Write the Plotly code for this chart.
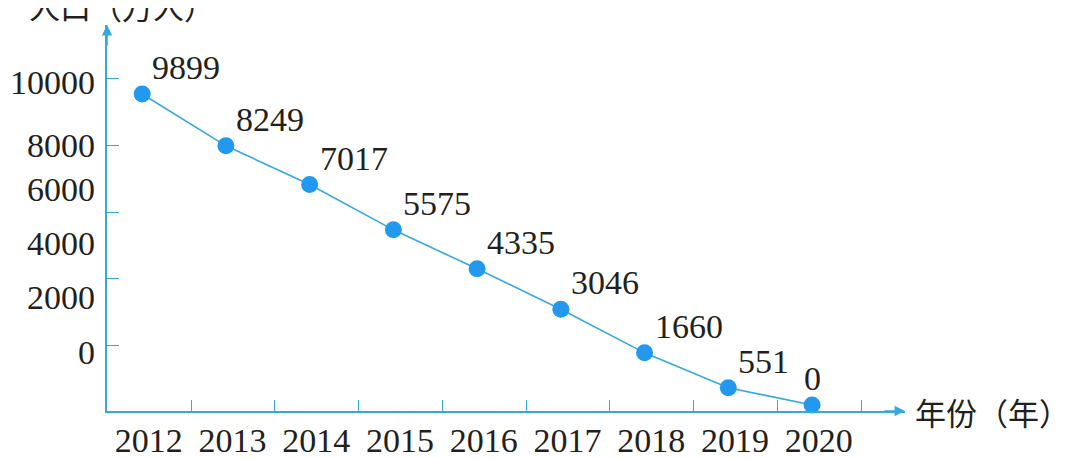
import plotly.graph_objects as go

# data
years = [2012, 2013, 2014, 2015, 2016, 2017, 2018, 2019, 2020]
population = [9899, 8249, 7017, 5575, 4335, 3046, 1660, 551, 0]
y_tick_text = ['10000', '8000', '6000', '4000', '2000', '0']

BLUE = '#35a8e0'
DOT = '#2299ef'
INK = '#231f20'
SERIF = 'Liberation Serif, Times New Roman, serif'
CJK = 'Noto Sans CJK SC'

# the page body adds an 8px margin, so the figure is drawn 8px smaller
OFF = 8
W, H = 1080 - OFF, 459 - OFF
# plot box: y axis line at page x=107, x axis line at page y=411
L, R, T, B = 107 - OFF, 175, 25 - OFF, 48
y_range = [-191, 12094]
x_range = [2011.58, 2021.11]


def px_to_y(p):
    # page pixel row -> data value on the main y axis
    top, bot = T, H - B
    p = p - OFF
    return y_range[1] - (p - top) / (bot - top) * (y_range[1] - y_range[0])


# the printed figure puts its y ticks and labels on their own spacing
y_tick_rows = [78, 145, 212, 278, 345]
y_label_rows = [82, 145, 189, 243, 297, 352]

fig = go.Figure()
fig.add_trace(go.Scatter(
    x=years, y=population,
    mode='lines+markers',
    line=dict(color=BLUE, width=1.6),
    marker=dict(color=DOT, size=17),
    cliponaxis=False,
    showlegend=False,
))
# invisible trace so the label axes get drawn
fig.add_trace(go.Scatter(x=[years[0]], y=[0], xaxis='x2', yaxis='y2',
                         mode='markers', marker=dict(opacity=0),
                         showlegend=False, hoverinfo='skip'))

# value labels up and to the right of each dot, the last one centred
value_labels = []
for i, (yr, v) in enumerate(zip(years, population)):
    last = i == len(years) - 1
    value_labels.append(dict(
        x=yr, y=v, text=str(v), showarrow=False,
        xanchor='center' if last else 'left', yanchor='bottom',
        xshift=0 if last else 8, yshift=6,
        font=dict(family=SERIF, size=34, color=INK)))

fig.update_layout(
    width=W, height=H,
    margin=dict(l=L, r=R, t=T, b=B, autoexpand=False),
    paper_bgcolor='white', plot_bgcolor='white',
    xaxis=dict(range=x_range, showgrid=False, zeroline=False,
               showline=True, linecolor=BLUE, linewidth=1.6,
               tickvals=[y + 0.585 for y in years], ticks='inside',
               ticklen=11, tickcolor=BLUE, tickwidth=1.4,
               showticklabels=False, automargin=False),
    xaxis2=dict(range=x_range, overlaying='x', side='bottom',
                showgrid=False, zeroline=False, showline=False,
                tickvals=[y + 0.08 for y in years],
                ticktext=[str(y) for y in years], ticks='',
                ticklabelstandoff=6, automargin=False,
                tickfont=dict(family=SERIF, size=34, color=INK)),
    yaxis=dict(range=y_range, showgrid=False, zeroline=False,
               showline=True, linecolor=BLUE, linewidth=1.6,
               tickvals=[px_to_y(p) for p in y_tick_rows], ticks='inside',
               ticklen=12, tickcolor=BLUE, tickwidth=1.4,
               showticklabels=False, automargin=False),
    yaxis2=dict(range=y_range, overlaying='y', side='left',
                showgrid=False, zeroline=False, showline=False,
                tickvals=[px_to_y(p) for p in y_label_rows],
                ticktext=y_tick_text, ticks='', ticklabelstandoff=11,
                automargin=False,
                tickfont=dict(family=SERIF, size=34, color=INK)),
    annotations=value_labels + [
        dict(xref='paper', yref='paper', x=0, y=1, ax=0, ay=22,
             text='', showarrow=True, arrowhead=2, arrowsize=1.3,
             arrowwidth=1.6, arrowcolor=BLUE),
        dict(xref='paper', yref='paper', x=1, y=0, ax=-22, ay=0,
             text='', showarrow=True, arrowhead=2, arrowsize=1.3,
             arrowwidth=1.6, arrowcolor=BLUE),
        dict(xref='paper', yref='paper', x=-0.1, y=1, yshift=20,
             xanchor='left', yanchor='middle', showarrow=False,
             text='人口（万人）', font=dict(family=CJK, size=31, color=INK)),
        dict(xref='paper', yref='paper', x=1, y=0, xshift=8,
             xanchor='left', yanchor='middle', showarrow=False,
             text='年份（年）', font=dict(family=CJK, size=31, color=INK)),
    ],
)

fig.write_html('out.html')
